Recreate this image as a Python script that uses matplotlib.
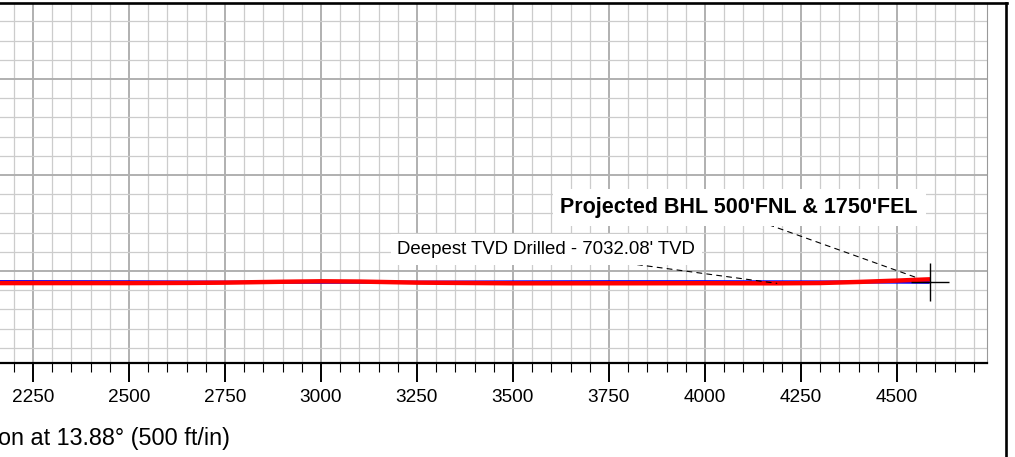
import matplotlib
matplotlib.use("Agg")
import matplotlib.pyplot as plt
from matplotlib.lines import Line2D
from matplotlib.ticker import MultipleLocator

plt.rcParams['font.family'] = ['Liberation Sans', 'DejaVu Sans']

# plan (blue) and actual (red) wellbore, vertical section vs TVD
plan_vs = [2150, 2500, 2750, 3000, 3250, 3500, 3750, 4000, 4250, 4500, 4585]
plan_tvd = [7027.5, 7028.0, 7029.0, 7029.4, 7029.0, 7028.3, 7027.8, 7027.8, 7028.3, 7029.0, 7029.4]

actual_vs = [2150, 2500, 2650, 2750, 2900, 3000, 3100, 3250, 3500, 3750, 4000, 4187, 4300, 4400, 4500, 4586]
actual_tvd = [7031.5, 7031.5, 7031.0, 7030.3, 7028.0, 7026.8, 7027.5, 7030.3, 7032.0, 7032.0,
              7031.8, 7032.08, 7031.3, 7028.5, 7025.0, 7021.6]

deepest_vs, deepest_tvd = 4187, 7032.08
deepest_label = "Deepest TVD Drilled - 7032.08' TVD"
bhl_vs, bhl_tvd = 4585, 7029.4
bhl_label = "Projected BHL 500'FNL & 1750'FEL"
section_label = "on at 13.88\u00b0 (500 ft/in)"

W, H = 1015, 457
fig = plt.figure(figsize=(W / 100, H / 100), dpi=100)
ax = fig.add_axes([0, (H - 363) / H, 987 / W, 360 / H])

ax.set_xlim(2164, 4734.4)
ax.set_ylim(7239.6, 6302)

ax.xaxis.set_major_locator(MultipleLocator(250))
ax.xaxis.set_minor_locator(MultipleLocator(50))
ax.yaxis.set_major_locator(MultipleLocator(250))
ax.yaxis.set_minor_locator(MultipleLocator(50))

ax.grid(which='major', color='#b0b0b0', lw=1.4, zorder=0)
ax.grid(which='minor', color='#cccccc', lw=0.9, zorder=0)
ax.set_axisbelow(True)

ax.tick_params(axis='x', which='major', direction='out', length=13.5, width=1.4,
               labelsize=13.7, pad=5)
ax.tick_params(axis='x', which='minor', direction='out', length=6.5, width=0.8)
ax.tick_params(axis='y', which='both', left=False, labelleft=False)

ax.spines['left'].set_visible(False)
ax.spines['top'].set_visible(False)
ax.spines['bottom'].set_linewidth(1.6)
ax.spines['right'].set_color('#999999')
ax.spines['right'].set_linewidth(0.8)

ax.plot(plan_vs, plan_tvd, color='#0000ff', lw=2.2, zorder=3, solid_capstyle='butt')
ax.plot(actual_vs, actual_tvd, color='#ff0000', lw=3.2, zorder=4, solid_capstyle='butt')
ax.plot([bhl_vs], [bhl_tvd], marker='+', ms=27, mew=1.0, color='black', zorder=5)

box = dict(boxstyle='square,pad=0.35', fc='white', ec='none')
ax.annotate(deepest_label, xy=(deepest_vs, deepest_tvd), xytext=(3974, 6955.7),
            ha='right', va='baseline', fontsize=13.4, bbox=box, zorder=6,
            arrowprops=dict(arrowstyle='-', color='black', lw=0.8, linestyle=(0, (4.5, 4.5)),
                            shrinkA=0, shrinkB=0, relpos=(0.64, 0), patchA=None))
ax.annotate(bhl_label, xy=(bhl_vs, bhl_tvd), xytext=(4554.7, 6849),
            ha='right', va='baseline', fontsize=15.5, fontweight='bold', bbox=box, zorder=6,
            arrowprops=dict(arrowstyle='-', color='black', lw=0.8, linestyle=(0, (4.5, 4.5)),
                            shrinkA=0, shrinkB=9, relpos=(0.53, 0), patchA=None))

fig.text(230 / W, (H - 445) / H, section_label, ha='right', va='baseline', fontsize=16.8)

# page frame (top and right edges)
fig.add_artist(Line2D([0, 1007 / W], [1 - 3 / H, 1 - 3 / H], color='black', lw=1.9,
                      transform=fig.transFigure))
fig.add_artist(Line2D([1006 / W, 1006 / W], [0, 1 - 3 / H], color='black', lw=1.9,
                      transform=fig.transFigure))

fig.savefig('out.png', dpi=100)
